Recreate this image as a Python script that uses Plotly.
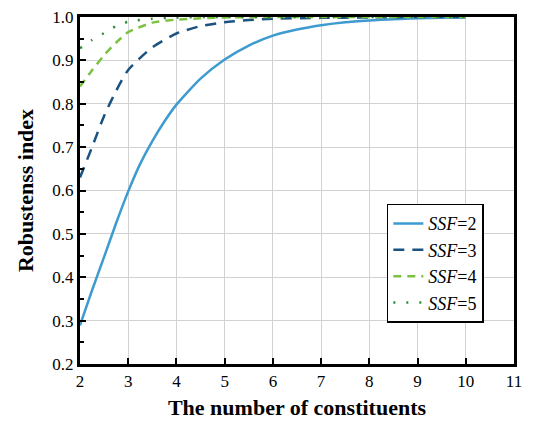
import plotly.graph_objects as go

# Data
x_ssf2 = [2, 2.25, 2.5, 2.75, 3, 3.25, 3.5, 3.75, 4, 4.5, 5, 5.5, 6, 6.5, 7, 7.5, 8, 8.5, 9, 9.5, 10]
y_ssf2 = [0.289, 0.37, 0.447, 0.525, 0.598, 0.662, 0.714, 0.759, 0.798, 0.858, 0.902,
          0.934, 0.957, 0.971, 0.981, 0.988, 0.992, 0.995, 0.997, 0.998, 0.999]

x_ssf3 = [2, 2.25, 2.5, 2.75, 3, 3.5, 4, 4.5, 5, 5.5, 6, 7, 8, 9, 10]
y_ssf3 = [0.63, 0.70, 0.772, 0.83, 0.878, 0.93, 0.962, 0.979, 0.988, 0.993,
          0.996, 0.998, 0.999, 1.0, 1.0]

x_ssf4 = [2, 2.25, 2.5, 2.75, 3, 3.5, 4, 4.5, 5, 6, 7, 8, 9, 10]
y_ssf4 = [0.84, 0.877, 0.912, 0.941, 0.965, 0.987, 0.994, 0.997, 0.999,
          1.0, 1.0, 1.0, 1.0, 1.0]

x_ssf5 = [2, 2.25, 2.5, 2.75, 3, 3.5, 4, 5, 6, 7, 8, 9, 10]
y_ssf5 = [0.928, 0.947, 0.963, 0.979, 0.989, 0.996, 0.999, 1.0, 1.0, 1.0,
          1.0, 1.0, 1.0]

series_names = ["<i>SSF</i>=2", "<i>SSF</i>=3", "<i>SSF</i>=4", "<i>SSF</i>=5"]
x_ticks = [2, 3, 4, 5, 6, 7, 8, 9, 10, 11]
y_ticks = [0.2, 0.3, 0.4, 0.5, 0.6, 0.7, 0.8, 0.9, 1.0]

SERIF = "Liberation Serif"

fig = go.Figure()
styles = [
    dict(color="#3d9bd0", width=2.5, dash="solid"),
    dict(color="#1a5282", width=2.5, dash="11px,8px"),
    dict(color="#7cc242", width=2.5, dash="8px,6px"),
    dict(color="#2e8b3a", width=2.5, dash="2px,11px"),
]
for xs, ys, name, st in zip([x_ssf2, x_ssf3, x_ssf4, x_ssf5],
                            [y_ssf2, y_ssf3, y_ssf4, y_ssf5],
                            series_names, styles):
    fig.add_trace(go.Scatter(x=xs, y=ys, mode="lines", name=name, legendgroup=name,
                             line=dict(shape="spline", smoothing=0.6, **st)))

axis_common = dict(
    showline=True, linecolor="black", linewidth=3, mirror=True,
    showgrid=True, gridcolor="#d2d2d2", gridwidth=1.2,
    ticks="inside", ticklen=6, tickwidth=2, tickcolor="black",
    tickfont=dict(family=SERIF, size=17, color="black"),
    zeroline=False, automargin=False, ticklabeloverflow="allow",
)

fig.update_layout(
    width=530, height=417,
    margin=dict(l=72, r=24, t=9, b=61),
    plot_bgcolor="white", paper_bgcolor="white",
    font=dict(family=SERIF, color="black"),
    xaxis=dict(range=[2, 11], tickvals=x_ticks,
               title=dict(text="<b>The number of constituents</b>",
                          font=dict(family=SERIF, size=22), standoff=10),
               **axis_common),
    yaxis=dict(range=[0.2, 1.0], tickvals=y_ticks, tickformat=".1f",
               title=dict(text="<b>Robustenss index</b>",
                          font=dict(family=SERIF, size=22), standoff=13),
               minor=dict(ticks="inside", ticklen=4, tickwidth=2,
                          tickcolor="black", dtick=0.05, showgrid=False),
               **axis_common),
    legend=dict(x=0.707, y=0.462, xanchor="left", yanchor="top",
                bgcolor="white", bordercolor="black", borderwidth=1.5,
                font=dict(family=SERIF, size=18, color="black"),
                tracegroupgap=0),
    showlegend=True,
)

fig.write_html("out.html")
